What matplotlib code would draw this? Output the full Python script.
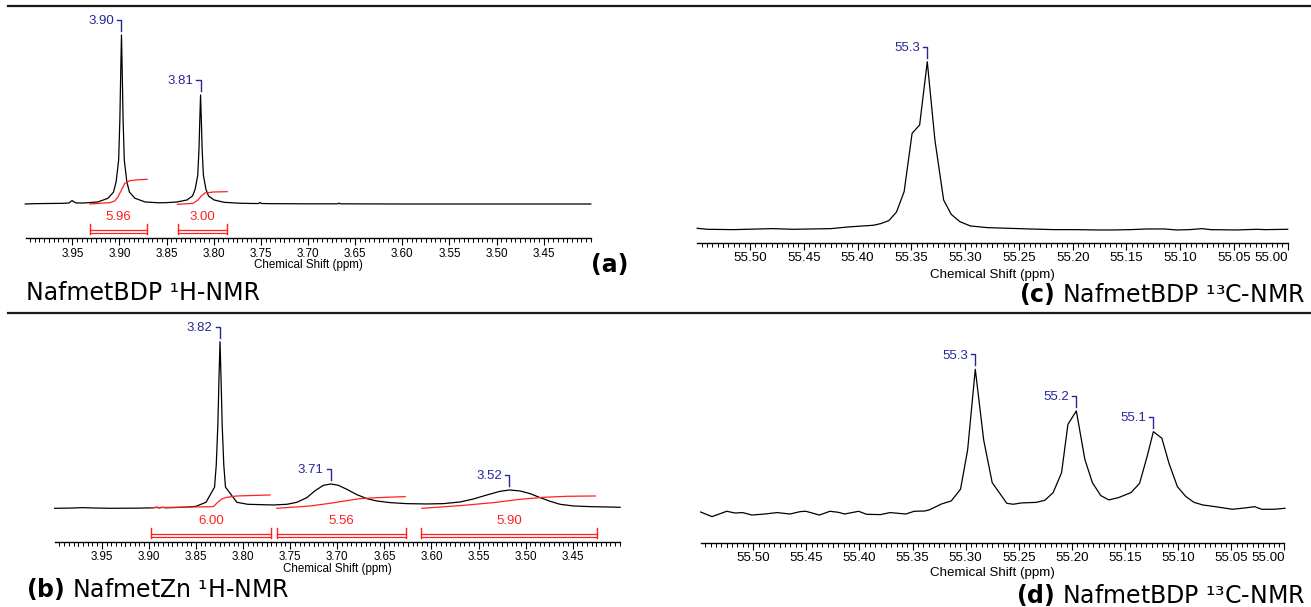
import numpy as np
import matplotlib.pyplot as plt
from matplotlib.lines import Line2D

# ---- (a) NafmetBDP 1H ----
A_PPM = [4.000, 3.990, 3.975, 3.960, 3.9535, 3.951, 3.950, 3.949, 3.946, 3.940,
         3.9379, 3.9229, 3.9122, 3.9064, 3.9036, 3.9009, 3.8996, 3.8987, 3.8979,
         3.8971, 3.8962, 3.8949, 3.8922, 3.8894, 3.8836, 3.8729, 3.8579, 3.850,
         3.839, 3.8283, 3.8225, 3.8197, 3.817, 3.8157, 3.8148, 3.814, 3.8132,
         3.8123, 3.811, 3.8083, 3.8055, 3.7997, 3.789, 3.774, 3.760, 3.7525,
         3.751, 3.7495, 3.740, 3.700, 3.6685, 3.667, 3.6655, 3.600, 3.500, 3.400]
A_INT = [0.0, 0.2, 0.3, 0.4, 0.6, 1.8, 2.0, 1.5, 0.6, 0.6,
         0.6, 1.2, 3.4, 7.0, 13.0, 26.0, 50.0, 78.0, 100.0,
         78.0, 50.0, 26.0, 13.0, 7.0, 3.4, 1.2, 0.7, 0.8,
         1.2, 2.4, 4.8, 8.8, 17.0, 32.0, 50.0, 64.5, 50.0,
         32.0, 17.0, 8.7, 4.7, 2.4, 1.0, 0.5, 0.3, 0.3,
         0.9, 0.3, 0.2, 0.1, 0.1, 0.5, 0.1, 0.0, 0.0, 0.0]
A_PEAKS = [3.8979, 3.814]
A_PEAK_LABELS = ["3.90", "3.81"]
A_INTEG_PPM = [[3.9315, 3.9103, 3.905, 3.9015, 3.8979, 3.8944, 3.8891, 3.8806, 3.8707],
               [3.8384, 3.8219, 3.8166, 3.8130, 3.8094, 3.8006, 3.7858]]
A_INTEG_VAL = [[0.0, 0.8, 1.8, 4.3, 8.3, 12.2, 13.8, 14.3, 14.6],
               [-0.2, 0.4, 2.5, 4.9, 6.5, 7.1, 7.3]]
A_REGIONS = [(3.9315, 3.8707), (3.8384, 3.7858)]
A_AREAS = ["5.96", "3.00"]

# ---- (b) NafmetZn 1H ----
B_PPM = [4.000, 3.985, 3.970, 3.960, 3.940, 3.910, 3.895, 3.892, 3.889, 3.886,
         3.882, 3.870, 3.860, 3.850, 3.8394, 3.8303, 3.8285, 3.8268, 3.8255,
         3.8245, 3.8235, 3.8222, 3.8205, 3.8187, 3.8066, 3.795, 3.782, 3.7678,
         3.7536, 3.7429, 3.7323, 3.7235, 3.7147, 3.7068, 3.6988, 3.6899, 3.6792,
         3.6686, 3.6580, 3.6439, 3.6261, 3.6049, 3.5873, 3.5696, 3.5554, 3.5412,
         3.5271, 3.5172, 3.5058, 3.4952, 3.4846, 3.4740, 3.4634, 3.4493, 3.4315,
         3.4138, 3.3997]
B_INT = [0.0, 0.1, 0.4, 0.2, 0.0, 0.1, 0.3, 0.7, 0.2, 0.6,
         0.3, 0.5, 0.7, 1.2, 3.6, 12.7, 26.0, 50.0, 80.0,
         100.0, 80.0, 50.0, 26.0, 12.7, 3.6, 2.4, 2.2, 2.0,
         2.4, 3.6, 6.4, 10.6, 13.8, 14.6, 13.8, 11.4, 8.2,
         5.8, 4.4, 3.4, 2.8, 2.6, 2.8, 3.8, 5.6, 8.0,
         10.2, 11.0, 10.4, 8.8, 6.4, 4.2, 2.4, 1.4, 1.0,
         0.8, 0.6]
B_PEAKS = [3.8245, 3.7068, 3.5172]
B_PEAK_LABELS = ["3.82", "3.71", "3.52"]
B_INTEG_PPM = [[3.8980, 3.8491, 3.8315, 3.8273, 3.8226, 3.8173, 3.8067, 3.7713],
               [3.7642, 3.7288, 3.7076, 3.6899, 3.6757, 3.6580, 3.6280],
               [3.6102, 3.5696, 3.5342, 3.5058, 3.4811, 3.4563, 3.4262]]
B_INTEG_VAL = [[0.4, 0.8, 1.0, 3.4, 5.6, 6.6, 7.4, 8.0],
               [0.0, 1.4, 3.0, 4.6, 5.8, 6.4, 7.0],
               [0.0, 1.6, 3.4, 5.4, 6.6, 7.2, 7.4]]
B_REGIONS = [(3.8980, 3.7706), (3.7645, 3.6266), (3.6108, 3.4244)]
B_AREAS = ["6.00", "5.56", "5.90"]

# ---- (c) NafmetBDP 13C ----
C_PPM = [55.5491, 55.5398, 55.5152, 55.4793, 55.4598, 55.4245, 55.4089, 55.3853,
         55.3784, 55.3709, 55.3638, 55.3567, 55.3493, 55.3423, 55.3352, 55.3281,
         55.3200, 55.3129, 55.3050, 55.2952, 55.2795, 55.2600, 55.2404, 55.2168,
         55.1973, 55.1777, 55.1620, 55.1463, 55.1306, 55.1150, 55.1031, 55.0914,
         55.0797, 55.0718, 55.0483, 55.0287, 55.0209, 55.0001]
C_INT = [0.6, 0.0, -0.2, 0.4, 0.0, 0.4, 1.4, 2.4,
         3.4, 5.2, 10.3, 22.5, 57.3, 62.2, 100.0, 53.3,
         17.5, 8.9, 4.6, 2.0, 1.0, 0.6, 0.2, -0.2,
         -0.2, -0.4, -0.4, -0.2, 0.2, 0.2, -0.4, -0.2,
         0.4, -0.2, -0.4, 0.0, -0.2, 0.0]
C_PEAKS = [55.3352]
C_PEAK_LABELS = ["55.3"]

# ---- (d) NafmetBDP 13C ----
D_PPM = [55.5495, 55.5388, 55.5249, 55.5170, 55.5099, 55.5012, 55.4893, 55.4774,
         55.4655, 55.4555, 55.4504, 55.4377, 55.4278, 55.4199, 55.4140, 55.4008,
         55.3933, 55.3802, 55.3711, 55.3564, 55.3485, 55.3386, 55.3346, 55.3227,
         55.3136, 55.3049, 55.2982, 55.2910, 55.2831, 55.2751, 55.2613, 55.2553,
         55.2474, 55.2336, 55.2256, 55.2177, 55.2098, 55.2038, 55.1959, 55.1879,
         55.1808, 55.1729, 55.1653, 55.1562, 55.1444, 55.1364, 55.1293, 55.1234,
         55.1154, 55.1087, 55.1008, 55.0928, 55.0851, 55.0770, 55.0651, 55.0491,
         55.0373, 55.0281, 55.0215, 55.0096, 54.9996]
D_INT = [0.9, -2.3, 1.4, 0.2, 0.5, -1.2, -0.5, 0.5,
         -0.5, 1.2, 1.4, -1.2, 1.4, 0.7, -0.5, 1.4,
         -0.7, -0.9, 0.5, -0.5, 1.4, 1.6, 2.3, 6.5,
         8.6, 16.7, 44.0, 100.0, 50.9, 21.3, 6.9, 6.3,
         7.2, 7.6, 9.0, 14.4, 28.2, 61.8, 71.1, 37.5,
         21.3, 12.3, 9.3, 10.9, 14.4, 20.8, 39.4, 56.7,
         52.1, 34.7, 18.5, 11.6, 7.6, 5.8, 4.6, 2.8,
         3.7, 4.6, 2.8, 2.8, 3.5]
D_PEAKS = [55.2910, 55.1959, 55.1234]
D_PEAK_LABELS = ["55.3", "55.2", "55.1"]

H_TICKS = [3.95, 3.90, 3.85, 3.80, 3.75, 3.70, 3.65, 3.60, 3.55, 3.50, 3.45]
C_TICKS = [55.50, 55.45, 55.40, 55.35, 55.30, 55.25, 55.20, 55.15, 55.10, 55.05, 55.00]

W, H = 1311, 607
BLUE = "#26269a"
RED = "#ff2020"
TICK_FONT = ["Liberation Sans", "DejaVu Sans"]

fig = plt.figure(figsize=(W / 100, H / 100), dpi=100)


def _px_axes(left, right, top, bottom):
    return fig.add_axes([left / W, 1 - bottom / H, (right - left) / W, (bottom - top) / H])


def _peak_label(ax, x, y, text):
    px, py = ax.transData.transform((x, y))
    fig.add_artist(Line2D([px / W, px / W, (px - 4.3) / W],
                          [(py + 4) / H, (py + 15) / H, (py + 15) / H],
                          transform=fig.transFigure, color=BLUE, lw=1.0))
    fig.text((px - 7.5) / W, (py + 13.6) / H, text, ha="right", va="center",
             color=BLUE, fontsize=9.5, family=TICK_FONT)


def _medium_ticks(ax, lo, hi, length):
    # 0.025 ppm ticks sit between minor and major length
    for k in range(int(np.ceil(lo * 40)), int(hi * 40) + 1):
        if k % 2:
            ax.plot([k / 40, k / 40], [0, -length], color="black", lw=0.7,
                    transform=ax.get_xaxis_transform(), clip_on=False)


def _panel(box, xlim, base_px, unit_px, ppm, inten, ticks, peaks, labels,
           label_off, fs, pad):
    left, right, top, bottom = box
    ax = _px_axes(left, right, top, bottom)
    ax.set_xlim(*xlim)
    ax.set_ylim(-(bottom - base_px) / unit_px, (base_px - top) / unit_px)
    ax.plot(ppm, inten, color="black", lw=0.9, clip_on=False)

    for s in ["top", "left", "right"]:
        ax.spines[s].set_visible(False)
    ax.spines["bottom"].set_linewidth(1.0)
    ax.set_yticks([])
    ax.set_xticks(ticks)
    ax.set_xticklabels([f"{t:.2f}" for t in ticks], family=TICK_FONT, fontsize=fs)
    lo, hi = min(xlim), max(xlim)
    minor = [t / 1000 for t in range(int(np.ceil(lo * 200 - 1e-6)) * 5,
                                     int(hi * 200) * 5 + 1, 5)]
    ax.set_xticks(minor, minor=True)
    ax.tick_params(axis="x", which="major", length=5.2, width=0.8, pad=pad)
    ax.tick_params(axis="x", which="minor", length=2.8, width=0.7)
    _medium_ticks(ax, lo, hi, 4.0 / (bottom - top))
    ax.set_xlabel("Chemical Shift (ppm)", family=TICK_FONT, fontsize=fs)
    ax.xaxis.set_label_coords(0.5, -label_off / (bottom - top))
    ax.xaxis.label.set_va("center")

    # a label on the axis end is pulled inside, as in the original software
    if abs(ticks[-1] - lo) < 1e-6:
        ax.get_xticklabels()[-1].set_horizontalalignment("right")

    order = np.argsort(ppm)
    xs = np.array(ppm)[order]
    ys = np.array(inten)[order]
    for p, lab in zip(peaks, labels):
        _peak_label(ax, p, np.interp(p, xs, ys), lab)
    return ax


def _integrals(ax, unit_px, curves_ppm, curves_val, regions, areas):
    for cx, cy in zip(curves_ppm, curves_val):
        ax.plot(cx, cy, color=RED, lw=0.9)
    v0, v1 = -20 / unit_px, -29.5 / unit_px
    h0, h1 = -26 / unit_px, -28.5 / unit_px
    for (s, e), lab in zip(regions, areas):
        ax.plot([s, s], [v0, v1], color=RED, lw=1.0)
        ax.plot([e, e], [v0, v1], color=RED, lw=1.0)
        ax.plot([s, e], [h0, h0], color=RED, lw=0.9)
        ax.plot([s, e], [h1, h1], color=RED, lw=0.9)
        ax.text((s + e) / 2, -12.7 / unit_px, lab, ha="center", va="center",
                color=RED, fontsize=9.5, family=TICK_FONT)


ax_a = _panel((25.7, 591.3, 15, 238.3), (3.9995, 3.3995), 204, 1.69,
              A_PPM, A_INT, H_TICKS, A_PEAKS, A_PEAK_LABELS, 27, 8.4, 1.8)
_integrals(ax_a, 1.69, A_INTEG_PPM, A_INTEG_VAL, A_REGIONS, A_AREAS)

ax_b = _panel((55.2, 620.3, 325, 541.7), (3.9995, 3.3995), 508.3, 1.666,
              B_PPM, B_INT, H_TICKS, B_PEAKS, B_PEAK_LABELS, 27.6, 8.4, 1.8)
_integrals(ax_b, 1.666, B_INTEG_PPM, B_INTEG_VAL, B_REGIONS, B_AREAS)

_panel((697.2, 1287.8, 40, 243.3), (55.5491, 55.0), 229.3, 1.676,
       C_PPM, C_INT, C_TICKS, C_PEAKS, C_PEAK_LABELS, 32, 9.6, 1.4)

_panel((700.6, 1284.5, 340, 543.3), (55.5495, 55.0), 513.3, 1.44,
       D_PPM, D_INT, C_TICKS, D_PEAKS, D_PEAK_LABELS, 30, 9.6, 1.0)

# separators
for yy in [6, 312.5]:
    fig.add_artist(Line2D([8 / W, 1], [1 - yy / H, 1 - yy / H],
                          transform=fig.transFigure, color="#1a1a1a", lw=1.6))

fig.text(25.7 / W, 1 - 300 / H, "NafmetBDP ¹H-NMR", fontsize=17, va="baseline")
fig.text(610 / W, 1 - 272 / H, "(a)", fontsize=17, fontweight="bold",
         ha="center", va="baseline")
fig.text(25.7 / W, 1 - 596.5 / H, r"$\mathbf{(b)}$ NafmetZn ¹H-NMR",
         fontsize=17, va="baseline")
fig.text(1305 / W, 1 - 301.7 / H, r"$\mathbf{(c)}$ NafmetBDP ¹³C-NMR",
         fontsize=17, ha="right", va="baseline")
fig.text(1305 / W, 1 - 603.3 / H, r"$\mathbf{(d)}$ NafmetBDP ¹³C-NMR",
         fontsize=17, ha="right", va="baseline")

fig.savefig("out.png", dpi=100)
